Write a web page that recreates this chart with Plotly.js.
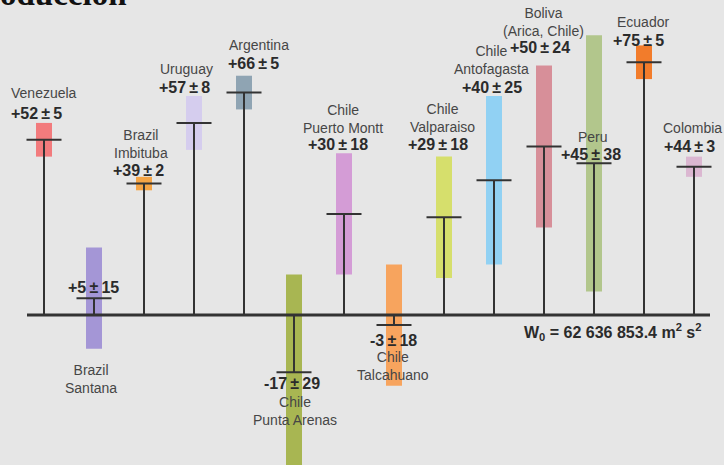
<!DOCTYPE html>
<html>
<head>
<meta charset="utf-8">
<script src="https://cdn.plot.ly/plotly-3.0.1.min.js"></script>
<style>
  html, body { margin: 0; padding: 0; background: #e6e6e6; }
  #chart { width: 724px; height: 465px; }
</style>
</head>
<body>
<div id="chart"></div>
<script>
// Tide-gauge stations and their offsets from the reference geopotential W0
const stations = ['Venezuela', 'Brazil<br>Santana', 'Brazil<br>Imbituba', 'Uruguay', 'Argentina',
  'Chile<br>Punta Arenas', 'Chile<br>Puerto Montt', 'Chile<br>Talcahuano', 'Chile<br>Valparaiso',
  'Chile<br>Antofagasta', 'Boliva<br>(Arica, Chile)', 'Peru', 'Ecuador', 'Colombia'];
const offsets = [52, 5, 39, 57, 66, -17, 30, -3, 29, 40, 50, 45, 75, 44];
const uncertainties = [5, 15, 2, 8, 5, 29, 18, 18, 18, 25, 24, 38, 5, 3];
const referenceLabel = 'W<sub>0</sub> = 62 636 853.4 m<sup>2</sup> s<sup>2</sup>';

// Box colours, one per station
const boxColors = ['#f27b7d', '#a496d6', '#f5a445', '#d5cdee', '#8fa4b3', '#a8b652', '#d49cd6',
  '#f7a45e', '#d6df6c', '#91d1f3', '#d78f99', '#b2c68c', '#f27c2b', '#dbb7d1'];

// Label placement in page pixels: [name x, name y, value x, value y]
const labelPlace = [
  [44, 93, 36, 113], [91, 379, 93, 287], [141, 144, 138, 170], [186, 69, 184, 88],
  [259, 45, 253, 63], [295, 411, 292, 383], [343, 119, 338, 144], [393, 366, 393, 340],
  [442, 118, 438, 144], [491, 60, 492, 87], [543, 22, 540, 47], [593, 137, 591, 155],
  [643, 22, 638, 40], [692, 128, 689, 146]
];

const W = 724, H = 465;
const idx = stations.map((_, i) => i);

// Uncertainty boxes: value ± error
const boxes = {
  type: 'bar', x: idx,
  y: uncertainties.map(e => 2 * e),
  base: offsets.map((v, i) => v - uncertainties[i]),
  width: 0.32,
  marker: { color: boxColors, line: { width: 0 } },
  hoverinfo: 'skip'
};

// Stems from the zero line to each offset
const stemX = [], stemY = [];
offsets.forEach((v, i) => { stemX.push(i, i, null); stemY.push(0, v, null); });
const stems = {
  type: 'scatter', mode: 'lines', x: stemX, y: stemY,
  line: { color: '#333333', width: 2 }, hoverinfo: 'skip'
};

// Horizontal tick at each offset
const ticks = {
  type: 'scatter', mode: 'markers', x: idx, y: offsets,
  marker: { symbol: 'line-ew', size: 25, line: { color: '#333333', width: 2 } },
  hoverinfo: 'skip'
};

// Zero line
const zeroLine = {
  type: 'scatter', mode: 'lines', x: [-0.34, 13.32], y: [0, 0],
  line: { color: '#333333', width: 3 }, hoverinfo: 'skip'
};

const fmt = (v, e) => (v > 0 ? '+' : '') + v + '\u2009±\u2009' + e;

const annotations = [];
stations.forEach((name, i) => {
  const p = labelPlace[i];
  annotations.push({
    xref: 'paper', yref: 'paper', x: p[0] / W, y: 1 - p[1] / H,
    xanchor: 'center', yanchor: 'middle', showarrow: false,
    text: name, font: { family: 'Liberation Sans, Arial, sans-serif', size: 14, color: '#464646' }
  });
  annotations.push({
    xref: 'paper', yref: 'paper', x: p[2] / W, y: 1 - p[3] / H,
    xanchor: 'center', yanchor: 'middle', showarrow: false,
    text: '<b>' + fmt(offsets[i], uncertainties[i]) + '</b>',
    font: { family: 'Liberation Sans, Arial, sans-serif', size: 16, color: '#2b2b2b' }
  });
});
annotations.push({
  xref: 'paper', yref: 'paper', x: 612 / W, y: 1 - 332 / H,
  xanchor: 'center', yanchor: 'middle', showarrow: false,
  text: '<b>' + referenceLabel + '</b>',
  font: { family: 'Liberation Sans, Arial, sans-serif', size: 16, color: '#2b2b2b' }
});
// Section heading, running off the top edge
annotations.push({
  xref: 'paper', yref: 'paper', x: -2 / W, y: 1 - 14 / H,
  xanchor: 'left', yanchor: 'bottom', showarrow: false,
  text: '<b>oducción</b>',
  font: { family: 'Liberation Serif, Times New Roman, serif', size: 33, color: '#111111' }
});

// Pixel scale: zero line at y = 315 px, 3.37 px per unit; stations 50 px apart from x = 44 px
const pxPerUnit = 3.37, zeroPx = 315;
const layout = {
  width: W, height: H,
  margin: { l: 0, r: 0, t: 0, b: 0 },
  paper_bgcolor: '#e6e6e6', plot_bgcolor: 'rgba(0,0,0,0)',
  showlegend: false, barmode: 'overlay',
  xaxis: { range: [(0 - 44) / 50, (W - 44) / 50], visible: false, fixedrange: true },
  yaxis: { range: [(zeroPx - H) / pxPerUnit, zeroPx / pxPerUnit], visible: false, fixedrange: true },
  annotations: annotations
};

Plotly.newPlot('chart', [boxes, stems, zeroLine, ticks], layout, { displayModeBar: false, staticPlot: true });
</script>
</body>
</html>
